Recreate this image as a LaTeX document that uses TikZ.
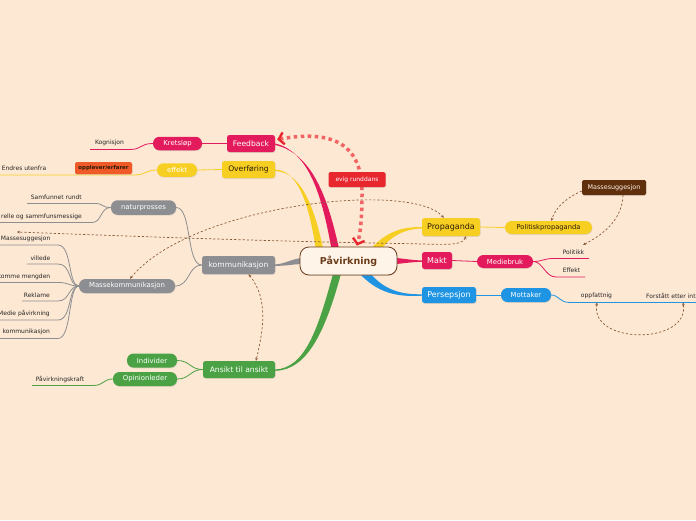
\documentclass[tikz,border=0pt]{standalone}
\usepackage{fontspec}
\setmainfont{DejaVu Sans}
\usetikzlibrary{arrows.meta,calc,shadows,backgrounds}
\definecolor{bg}{HTML}{FDE8D3}
\definecolor{pinkc}{HTML}{E31B5D}
\definecolor{yellowc}{HTML}{F7CF23}
\definecolor{grayc}{HTML}{8D8E91}
\definecolor{greenc}{HTML}{4BA244}
\definecolor{bluec}{HTML}{1F94E2}
\definecolor{rootbrown}{HTML}{6B3C1A}
\definecolor{rootfill}{HTML}{FFF4E8}
\definecolor{brownc}{HTML}{5F300B}
\definecolor{orangec}{HTML}{EF5A28}
\definecolor{redc}{HTML}{E8262E}
\definecolor{relc}{HTML}{8A5A38}
\definecolor{dotred}{HTML}{F26464}
\definecolor{darktext}{HTML}{2B1A05}
\definecolor{leaftext}{HTML}{262626}
\tikzset{
  shad/.style={drop shadow={shadow xshift=0.5pt, shadow yshift=-0.8pt, opacity=0.22}},
  topic/.style={shad, rounded corners=2.5pt, inner sep=0pt, minimum height=17pt, text=white, font=\fontsize{7.6}{9}\selectfont},
  pill/.style={shad, rounded corners=6.5pt, inner sep=0pt, minimum height=13.5pt, text=white, font=\fontsize{6.9}{8}\selectfont},
  tag/.style={shad, rounded corners=1.5pt, inner sep=0pt, text=white, font=\fontsize{6}{7}\selectfont},
  leaf/.style={inner sep=0pt, text=leaftext, font=\fontsize{6}{7}\selectfont},
  thinline/.style={line width=0.8pt},
  rel/.style={draw=relc, line width=0.7pt, dash pattern=on 2.2pt off 2pt},
  relboth/.style={rel, {Stealth[length=3pt,width=2.8pt]}-{Stealth[length=3pt,width=2.8pt]}},
  relend/.style={rel, -{Stealth[length=3pt,width=2.8pt]}},
  reddots/.style={draw=dotred, line width=3.5pt, dash pattern=on 3.5pt off 3.5pt,
    {Straight Barb[length=5pt,width=12pt,line width=2.4pt,color=redc]}-{Straight Barb[length=5pt,width=12pt,line width=2.4pt,color=redc]}}
}
\begin{document}
\begin{tikzpicture}[x=1pt,y=-1pt]
\useasboundingbox (0,0) rectangle (696,520);
\begin{scope}[on background layer]
\fill[bg] (0,0) rectangle (696,520);
\end{scope}

% root
\node[draw=rootbrown, line width=0.8pt, fill=rootfill, rounded corners=9pt, minimum width=97pt, minimum height=28pt, inner sep=0pt,
      text=rootbrown, font=\bfseries\fontsize{9.5}{11}\selectfont, shad] (P) at (348.5,261) {Påvirkning};

% main topics
\node[topic, fill=pinkc, minimum width=48pt] (fb) at (251,143.5) {Feedback};
\node[topic, fill=yellowc, text=darktext, minimum width=53pt] (ov) at (248.5,169.5) {Overføring};
\node[topic, fill=grayc, minimum width=73pt, minimum height=18pt] (ko) at (238.5,265) {kommunikasjon};
\node[topic, fill=greenc, minimum width=72pt] (an) at (239,369.5) {Ansikt til ansikt};
\node[topic, fill=yellowc, text=darktext, minimum width=58pt, minimum height=18pt, font=\fontsize{8}{9}\selectfont] (pr) at (451,227) {Propaganda};
\node[topic, fill=pinkc, minimum width=30pt, font=\fontsize{8}{9}\selectfont] (ma) at (437,260.5) {Makt};
\node[topic, fill=bluec, minimum width=54pt, minimum height=16pt, font=\fontsize{8}{9}\selectfont] (pe) at (449,295) {Persepsjon};

% sub topics
\node[pill, fill=pinkc, minimum width=49pt] (kr) at (177.5,143.5) {Kretsløp};
\node[pill, fill=yellowc, minimum width=40pt] (ef) at (177,170) {effekt};
\node[tag, fill=orangec, text=darktext, minimum width=57pt, minimum height=12pt, font=\bfseries\fontsize{5.4}{6}\selectfont] (op) at (103.5,168) {opplever/erfarer};
\node[pill, fill=grayc, minimum width=65pt, minimum height=14.5pt] (na) at (143.5,207.5) {naturprosses};
\node[pill, fill=grayc, minimum width=96pt, minimum height=14pt] (mk) at (127,286) {Massekommunikasjon};
\node[pill, fill=greenc, minimum width=50pt, minimum height=14pt] (in) at (152,360.5) {Individer};
\node[pill, fill=greenc, minimum width=64pt, minimum height=14pt] (oi) at (145,379) {Opinionleder};
\node[pill, fill=yellowc, text=darktext, minimum width=87pt, minimum height=13pt, font=\fontsize{6.7}{8}\selectfont] (pp) at (548.5,227.5) {Politiskpropaganda};
\node[pill, fill=pinkc, minimum width=56pt, minimum height=13pt] (mb) at (505,261.5) {Mediebruk};
\node[pill, fill=bluec, minimum width=50pt, minimum height=14pt] (mt) at (526,295) {Mottaker};
\node[tag, fill=brownc, text=rootfill, minimum width=64pt, minimum height=15pt, font=\fontsize{6.4}{7}\selectfont] (ms) at (614,187.5) {Massesuggesjon};

% leaves
\node[leaf] (kg) at (109.5,143) {Kognisjon};
\node[leaf] (eu) at (24,168.5) {Endres utenfra};
\node[leaf, anchor=east] (sr) at (82,197.5) {Samfunnet rundt};
\node[leaf, anchor=east] (ks) at (82,216.5) {relle og sammfunsmessige};
\node[leaf, anchor=east] (l1) at (50.5,239) {Massesuggesjon};
\node[leaf, anchor=east] (l2) at (50.5,258) {villede};
\node[leaf, anchor=east] (l3) at (50.5,276.5) {komme mengden};
\node[leaf, anchor=east] (l4) at (50,295) {Reklame};
\node[leaf, anchor=east] (l5) at (50,313.5) {Medie påvirkning};
\node[leaf, anchor=east] (l6) at (50,332) {kommunikasjon};
\node[leaf] (pk) at (60,379) {Påvirkningskraft};
\node[leaf] (po) at (573.5,252) {Politikk};
\node[leaf] (et) at (571.5,270.5) {Effekt};
\node[leaf] (of) at (596.5,295.5) {oppfattnig};
\node[leaf, anchor=west] (fe) at (646,295.5) {Forstått etter int};

% relationship free ends
\coordinate (lend) at (17,232);
\coordinate (pkarr) at (583,245);
\coordinate (oa) at (597,302.5);
\coordinate (ob) at (683,302.5);

% branches and lines
\begin{scope}[on background layer]
\fill[pinkc] (333,258) .. controls (324,205) and (312,152) .. (fb.east) -- ($(fb.east)+(0,1.5)$) .. controls (315,154) and (330,205) .. (341,258) -- cycle;
\fill[yellowc] (317,258) .. controls (311,212) and (300,170) .. (ov.east) -- ($(ov.east)+(0,1.5)$) .. controls (303,172) and (316,212) .. (325,258) -- cycle;
\fill[yellowc] (368,252) .. controls (385,232) and (400,227) .. (pr.west) -- ($(pr.west)+(0,1.5)$) .. controls (402,229) and (388,238) .. (378,254) -- cycle;
\fill[pinkc] (390,257.5) .. controls (400,258) and (410,260) .. (ma.west) -- ($(ma.west)+(0,1.3)$) .. controls (410,262) and (400,264) .. (390,264.5) -- cycle;
\fill[bluec] (366,268) .. controls (382,290) and (400,294.5) .. ($(pe.west)+(0,-0.7)$) -- ($(pe.west)+(0,0.7)$) .. controls (398,297) and (378,294) .. (358,272) -- cycle;
\fill[grayc] (305,257.5) .. controls (290,259) and (285,264) .. ($(ko.east)+(0,-0.6)$) -- ($(ko.east)+(0,0.8)$) .. controls (288,266) and (292,264) .. (305,264) -- cycle;
\fill[greenc] (334,270) .. controls (318,330) and (305,368) .. (an.east) -- ($(an.east)+(0,1.3)$) .. controls (308,370) and (326,330) .. (342,270) -- cycle;

% pink subtree
\draw[pinkc, thinline] (fb.west) -- (kr.east);
\draw[pinkc, thinline] (kr.west) .. controls (140,143.5) and (142,149.5) .. (130,149.5) -- (90,149.5);
% yellow subtree
\draw[yellowc, thinline] (ov.west) -- (ef.east);
\draw[yellowc, thinline] (ef.west) .. controls (146,170) and (146,175) .. (134,175) -- (0,175);
% gray subtree
\draw[grayc, thinline] (ko.west) .. controls (186,265) and (192,207.5) .. (na.east);
\draw[grayc, thinline] (ko.west) .. controls (188,265) and (190,286) .. (mk.east);
\draw[grayc, thinline] (na.west) .. controls (101,207.5) and (104,203.5) .. (95,203.5) -- (27,203.5);
\draw[grayc, thinline] (na.west) .. controls (100,207.5) and (102,222.5) .. (92,222.5) -- (0,222.5);
\draw[grayc, thinline] (mk.west) .. controls (68,286) and (72,245) .. (58,245) -- (0,245);
\draw[grayc, thinline] (mk.west) .. controls (68,286) and (72,264) .. (58,264) -- (27,264);
\draw[grayc, thinline] (mk.west) .. controls (68,286) and (70,282.5) .. (58,282.5) -- (0,282.5);
\draw[grayc, thinline] (mk.west) .. controls (68,286) and (70,301) .. (58,301) -- (22,301);
\draw[grayc, thinline] (mk.west) .. controls (68,286) and (72,320) .. (58,320) -- (0,320);
\draw[grayc, thinline] (mk.west) .. controls (68,286) and (72,338.5) .. (58,338.5) -- (0,338.5);
% green subtree
\draw[greenc, thinline] (an.west) .. controls (190,369.5) and (190,360.5) .. (in.east);
\draw[greenc, thinline] (an.west) .. controls (190,369.5) and (190,379) .. (oi.east);
\draw[greenc, thinline] (oi.west) .. controls (103,379) and (104,385.5) .. (93,385.5) -- (32,385.5);
% right side
\draw[yellowc, thinline] (pr.east) -- (pp.west);
\draw[pinkc, thinline] (ma.east) -- (mb.west);
\draw[pinkc, thinline] (mb.east) .. controls (542,261.5) and (544,258.5) .. (553,258.5) -- (589,258.5);
\draw[pinkc, thinline] (mb.east) .. controls (543,261.5) and (545,277) .. (556,277) -- (585,277);
\draw[bluec, thinline] (pe.east) -- (mt.west);
\draw[bluec, thinline] (mt.east) .. controls (559,295) and (559,302.5) .. (570,302.5) -- (696,302.5);
\end{scope}

% relationships
\draw[relboth] ($(mk.north)+(3,0)$) .. controls (190,205) and (410,180) .. ($(pr.north west)+(22,0)$);
\draw[relboth] ($(pr.south)+(15,0)$) .. controls (462,247) and (440,244) .. (400,243.5) .. controls (250,241) and (100,235) .. (lend);
\draw[relboth] ($(ko.south)+(10,0)$) .. controls (270,300) and (262,335) .. ($(an.north)+(17,0)$);
\draw[relend] ($(ms.west)+(0,3.5)$) .. controls (566,198) and (555,208) .. ($(pp.north)+(3,0)$);
\draw[relend] ($(ms.south)+(9,0)$) .. controls (622,222) and (600,236) .. (pkarr);
\draw[relboth] (oa) .. controls (590,345) and (690,345) .. (ob);

% evig runddans
\draw[reddots] ($(fb.east)+(2,-4)$) .. controls (340,128) and (363,150) .. (362,195) .. controls (362,220) and (360,235) .. ($(P.north)+(8.5,-1)$);
\node[tag, fill=redc, minimum width=57pt, minimum height=15pt] (er) at (357,179.5) {evig runddans};
\end{tikzpicture}
\end{document}
